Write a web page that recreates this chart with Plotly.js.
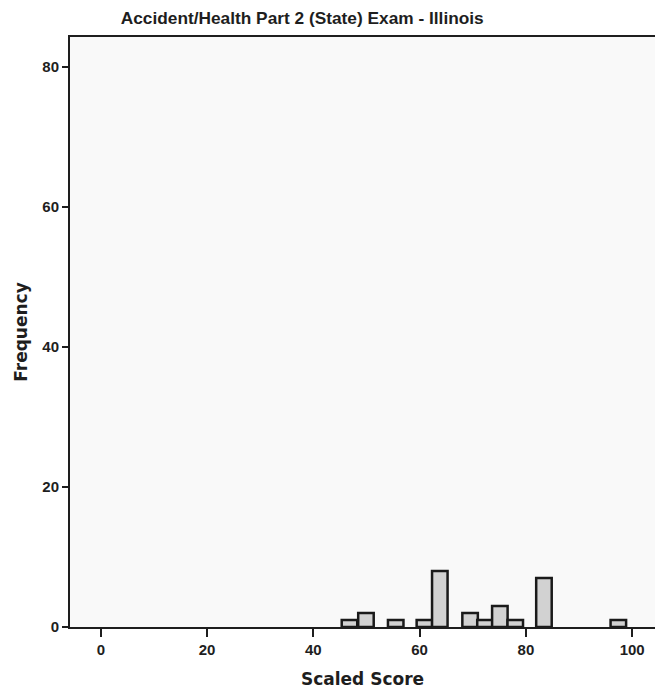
<!DOCTYPE html>
<html>
<head>
<meta charset="utf-8">
<script src="https://cdn.plot.ly/plotly-3.0.1.min.js"></script>
<style>
html,body{margin:0;padding:0;background:#fff;}
#chart{width:657px;height:694px;}
</style>
</head>
<body>
<div id="chart"></div>
<script>
// Histogram bins (bin centers in scaled score) and frequencies
const binCenters = [46.8, 49.9, 55.5, 60.9, 63.8, 69.5, 72.3, 75.1, 78.0, 83.4, 97.4];
const frequencies = [1, 2, 1, 1, 8, 2, 1, 3, 1, 7, 1];
const xTicks = [0, 20, 40, 60, 80, 100];
const yTicks = [0, 20, 40, 60, 80];
const chartTitle = "Accident/Health Part 2 (State) Exam - Illinois";
const xTitle = "Scaled Score";
const yTitle = "Frequency";

const trace = {
  type: 'bar',
  x: binCenters,
  y: frequencies,
  width: 2.92,
  marker: {
    color: '#d2d2d2',
    line: {color: '#1a1a1a', width: 2.5}
  },
  hoverinfo: 'x+y'
};

const sans = '"Liberation Sans", Arial, sans-serif';
const heavy = '"DejaVu Sans", sans-serif';
const ink = '#1e1e1e';

const layout = {
  width: 657,
  height: 694,
  margin: {l: 70, r: 2, t: 37, b: 67},
  paper_bgcolor: '#ffffff',
  plot_bgcolor: '#f9f9f9',
  showlegend: false,
  bargap: 0,
  title: {
    text: chartTitle,
    font: {family: sans, color: ink, weight: 'bold', size: 17.3},
    x: 0.46, xanchor: 'center',
    y: 0.974, yanchor: 'middle'
  },
  xaxis: {
    range: [-5.8, 104.3],
    tickvals: xTicks,
    ticktext: xTicks.map(String),
    ticks: 'outside',
    ticklen: 8,
    tickwidth: 2,
    tickcolor: ink,
    showline: true,
    linecolor: ink,
    linewidth: 2,
    mirror: true,
    showgrid: false,
    zeroline: false,
    tickfont: {family: sans, color: ink, weight: 'bold', size: 15},
    title: {text: xTitle, font: {family: heavy, color: ink, weight: 'bold', size: 17}, standoff: 16}
  },
  yaxis: {
    range: [0, 84.3],
    tickvals: yTicks,
    ticktext: yTicks.map(String),
    ticks: 'outside',
    ticklen: 6,
    tickwidth: 2,
    tickcolor: ink,
    showline: true,
    linecolor: ink,
    linewidth: 2,
    showgrid: false,
    zeroline: false,
    tickfont: {family: sans, color: ink, weight: 'bold', size: 15},
    title: {text: yTitle, font: {family: heavy, color: ink, weight: 'bold', size: 17}, standoff: 10}
  }
};

Plotly.newPlot('chart', [trace], layout, {displayModeBar: false, staticPlot: true});
</script>
</body>
</html>
